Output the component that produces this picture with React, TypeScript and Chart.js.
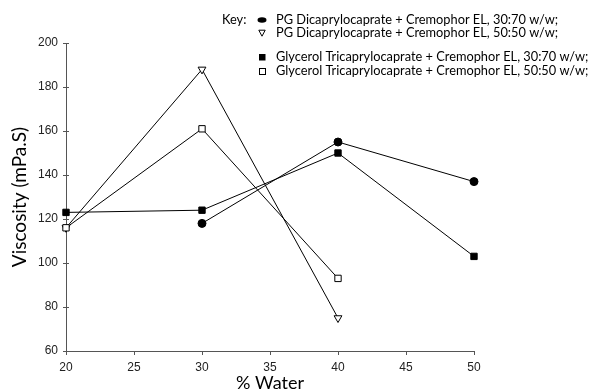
import React, { useEffect, useRef } from "react";
import { Chart, registerables } from "chart.js";

Chart.register(...registerables);

const keyLabel = "Key:";
const seriesLabels = [
  "PG Dicaprylocaprate + Cremophor EL, 30:70 w/w;",
  "PG Dicaprylocaprate + Cremophor EL, 50:50 w/w;",
  "Glycerol Tricaprylocaprate + Cremophor EL, 30:70 w/w;",
  "Glycerol Tricaprylocaprate + Cremophor EL, 50:50 w/w;",
];

const pg3070X = [30, 40, 50];
const pg3070Y = [118, 155, 137];
const pg5050X = [20, 30, 40];
const pg5050Y = [116, 188, 75];
const gt3070X = [20, 30, 40, 50];
const gt3070Y = [123, 124, 150, 103];
const gt5050X = [20, 30, 40];
const gt5050Y = [116, 161, 93];

const xTitle = "% Water";
const yTitle = "Viscosity (mPa.S)";
const xMin = 20, xMax = 50, xStep = 5;
const yMin = 60, yMax = 200, yStep = 20;

const toPts = (xs: number[], ys: number[]) => xs.map((x, i) => ({ x, y: ys[i] }));

const TITLE_FONT = "Lato, 'Open Sans', sans-serif";
const TICK_FONT = "'Liberation Sans', Arial, sans-serif";

function drawMarker(ctx: CanvasRenderingContext2D, kind: number, x: number, y: number) {
  ctx.save();
  ctx.lineWidth = 1;
  ctx.strokeStyle = "#000";
  ctx.fillStyle = "#000";
  if (kind === 0) {
    ctx.beginPath();
    ctx.ellipse(x, y, 4.5, 2.7, 0, 0, Math.PI * 2);
    ctx.fill();
  } else if (kind === 1) {
    ctx.beginPath();
    ctx.moveTo(x - 3.2, y - 2.8);
    ctx.lineTo(x + 3.2, y - 2.8);
    ctx.lineTo(x, y + 3.2);
    ctx.closePath();
    ctx.fillStyle = "#fff";
    ctx.fill();
    ctx.stroke();
  } else if (kind === 2) {
    ctx.fillRect(x - 3, y - 3, 6.5, 6.5);
  } else {
    ctx.fillStyle = "#fff";
    ctx.fillRect(x - 2.5, y - 2.5, 6, 6);
    ctx.strokeRect(x - 2.5, y - 2.5, 6, 6);
  }
  ctx.restore();
}

const keyPlugin = {
  id: "keyPlugin",
  afterDraw(chart: any) {
    const ctx = chart.ctx as CanvasRenderingContext2D;
    ctx.save();
    ctx.font = `12.8px ${TITLE_FONT}`;
    ctx.fillStyle = "#000";
    ctx.textBaseline = "middle";
    ctx.textAlign = "left";
    ctx.fillText(keyLabel, 222, 20);
    const ys = [20, 33, 57, 71];
    chart.data.datasets.forEach((ds: any, i: number) => {
      drawMarker(ctx, i, 262, ys[i]);
      ctx.fillStyle = "#000";
      ctx.fillText(ds.label, 276, ys[i]);
    });
    // inner tick marks on y axis
    const yScale = chart.scales.y;
    const left = chart.chartArea.left;
    ctx.strokeStyle = "#555";
    ctx.lineWidth = 1;
    yScale.ticks.forEach((t: any) => {
      const py = Math.round(yScale.getPixelForValue(t.value)) + 0.5;
      ctx.beginPath();
      ctx.moveTo(left, py);
      ctx.lineTo(left + 3, py);
      ctx.stroke();
    });
    ctx.restore();
  },
};

export default function App() {
  const ref = useRef<HTMLCanvasElement>(null);
  useEffect(() => {
    if (!ref.current) return;
    const common = {
      borderColor: "#000",
      borderWidth: 1,
      pointBorderColor: "#000",
      pointBorderWidth: 1,
      clip: false as any,
      showLine: true,
    };
    const chart = new Chart(ref.current, {
      type: "scatter",
      data: {
        datasets: [
          {
            ...common,
            label: seriesLabels[0],
            data: toPts(pg3070X, pg3070Y),
            pointStyle: "circle",
            pointRadius: 4,
            pointBackgroundColor: "#000",
            order: 2,
          },
          {
            ...common,
            label: seriesLabels[1],
            data: toPts(pg5050X, pg5050Y),
            pointStyle: "triangle",
            pointRotation: 180,
            pointRadius: 4.5,
            pointBackgroundColor: "#fff",
            order: 3,
          },
          {
            ...common,
            label: seriesLabels[2],
            data: toPts(gt3070X, gt3070Y),
            pointStyle: "rect",
            pointRadius: 4.5,
            pointBackgroundColor: "#000",
            order: 1,
          },
          {
            ...common,
            label: seriesLabels[3],
            data: toPts(gt5050X, gt5050Y),
            pointStyle: "rect",
            pointRadius: 4.5,
            pointBackgroundColor: "#fff",
            order: 0,
          },
        ],
      },
      options: {
        animation: false,
        responsive: false,
        maintainAspectRatio: false,
        layout: { padding: { left: 0, right: 123, top: 43, bottom: 0 } },
        plugins: { legend: { display: false }, tooltip: { enabled: false } },
        scales: {
          x: {
            type: "linear",
            min: xMin,
            max: xMax,
            afterFit: (s: any) => {
              s.height = 41;
            },
            border: { display: true, color: "#555", width: 1 },
            grid: { display: true, drawOnChartArea: false, tickLength: 4, color: "#555" },
            ticks: {
              stepSize: xStep,
              color: "#222",
              font: { family: TICK_FONT, size: 12 },
              padding: 5,
              maxRotation: 0,
            },
            title: {
              display: true,
              text: xTitle,
              color: "#000",
              font: { family: TITLE_FONT, size: 18, lineHeight: 1 },
              padding: { top: 0, bottom: 0 },
            },
          },
          y: {
            type: "linear",
            min: yMin,
            max: yMax,
            afterFit: (s: any) => {
              s.width = 66;
            },
            border: { display: true, color: "#555", width: 1 },
            grid: { display: true, drawOnChartArea: false, tickLength: 3, color: "#555" },
            ticks: {
              stepSize: yStep,
              color: "#222",
              font: { family: TICK_FONT, size: 12 },
              padding: 5,
            },
            title: {
              display: true,
              text: yTitle,
              color: "#000",
              font: { family: TITLE_FONT, size: 19, lineHeight: 1 },
              padding: { top: 10, bottom: 0 },
            },
          },
        },
      },
      plugins: [keyPlugin],
    });
    return () => chart.destroy();
  }, []);
  return (
    <div style={{ position: "fixed", left: 0, top: 0, width: 597, height: 392, background: "#fff" }}>
      <canvas ref={ref} width={597} height={392} style={{ display: "block", width: 597, height: 392 }} />
    </div>
  );
}
